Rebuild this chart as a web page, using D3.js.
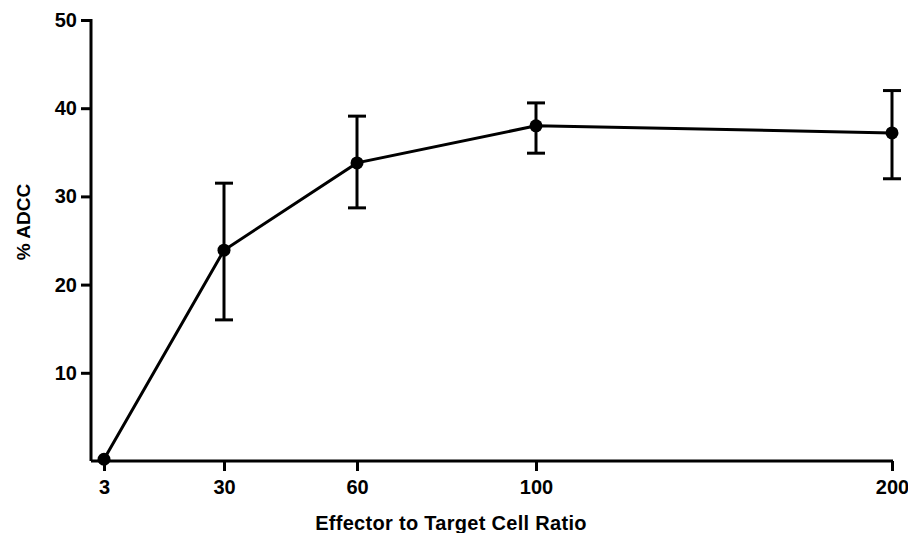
<!DOCTYPE html>
<html lang="en">
<head>
  <meta charset="utf-8">
  <title>ADCC</title>
  <script src="https://d3js.org/d3.v7.min.js"></script>
  <style>
    body { margin: 0; background: #fff; }
    text { font-family: "Liberation Sans", Arial, sans-serif; fill: #000; }
  </style>
</head>
<body>
  <svg class="chart"></svg>
  <script>
  const ratios = [3, 30, 60, 100, 200];
  const adcc = [0.2, 23.9, 33.8, 38.0, 37.2];
  const errLow = [0.2, 16.0, 28.7, 34.9, 32.0];
  const errHigh = [0.2, 31.5, 39.1, 40.6, 42.0];
  const yTicks = [10, 20, 30, 40, 50];

  const width = 908, height = 533;
  const svg = d3.select(".chart").attr("width", width).attr("height", height);

  // x spacing in the figure is not linear, so piecewise scale
  const xScale = d3.scaleLinear()
    .domain(ratios)
    .range([104, 224, 357, 536, 892]);
  const yScale = d3.scaleLinear().domain([0, 50]).range([461, 20]);

  const xAxis = d3.axisBottom(xScale).tickValues(ratios).tickFormat(d => d)
    .tickSizeInner(10).tickSizeOuter(0).tickPadding(9);
  const yAxis = d3.axisLeft(yScale).tickValues(yTicks)
    .tickSizeInner(10).tickSizeOuter(0).tickPadding(4);

  const gx = svg.append("g").attr("id", "x-axis")
    .attr("transform", "translate(0,461)")
    .call(xAxis);
  gx.select(".domain").attr("d", "M91,0H893");
  const gy = svg.append("g").attr("id", "y-axis")
    .attr("transform", "translate(91,0)")
    .call(yAxis);
  gy.select(".domain").attr("d", "M0,19V461");

  svg.selectAll(".domain, .tick line").attr("stroke", "#000").attr("stroke-width", 3);
  svg.selectAll(".tick text").style("font-size", "20px").style("font-weight", "bold").attr("fill", "#000");

  svg.append("text").attr("x", 451).attr("y", 530).attr("text-anchor", "middle")
    .style("font-size", "20px").style("font-weight", "bold").style("letter-spacing", "0.3px")
    .text("Effector to Target Cell Ratio");
  svg.append("text").attr("transform", "translate(30,222) rotate(-90)")
    .attr("text-anchor", "middle")
    .style("font-size", "19px").style("font-weight", "bold")
    .text("% ADCC");

  const pts = ratios.map((r, i) => ({ r, v: adcc[i], lo: errLow[i], hi: errHigh[i] }));

  svg.append("path").datum(pts)
    .attr("fill", "none").attr("stroke", "#000").attr("stroke-width", 3)
    .attr("d", d3.line().x(d => xScale(d.r)).y(d => yScale(d.v)));

  const eb = svg.selectAll(".err").data(pts.filter(d => d.hi > d.lo)).enter().append("g")
    .attr("stroke", "#000").attr("stroke-width", 3);
  eb.append("line").attr("x1", d => xScale(d.r)).attr("x2", d => xScale(d.r))
    .attr("y1", d => yScale(d.lo)).attr("y2", d => yScale(d.hi));
  eb.append("line").attr("x1", d => xScale(d.r) - 9).attr("x2", d => xScale(d.r) + 9)
    .attr("y1", d => yScale(d.hi)).attr("y2", d => yScale(d.hi));
  eb.append("line").attr("x1", d => xScale(d.r) - 9).attr("x2", d => xScale(d.r) + 9)
    .attr("y1", d => yScale(d.lo)).attr("y2", d => yScale(d.lo));

  svg.selectAll(".dot").data(pts).enter().append("circle")
    .attr("class", "dot")
    .attr("cx", d => xScale(d.r)).attr("cy", d => yScale(d.v))
    .attr("r", 6.5).attr("fill", "#000");
  </script>
</body>
</html>
